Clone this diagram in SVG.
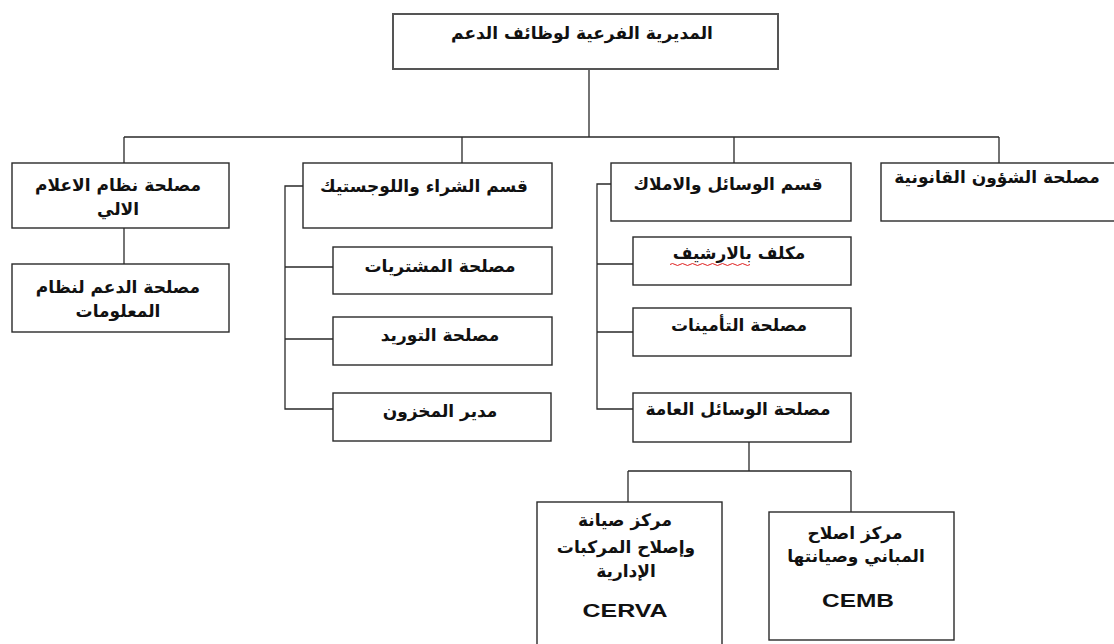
<svg xmlns="http://www.w3.org/2000/svg" width="1114" height="644" viewBox="0 0 1114 644">
<style>
.box{fill:#fff;stroke:#2a2a2a;stroke-width:1.4}
.top{fill:#fff;stroke:#555;stroke-width:2}
.ln{fill:none;stroke:#2a2a2a;stroke-width:1.3}
text{font-family:"DejaVu Sans","Noto Sans",sans-serif;font-weight:bold;font-size:17px;fill:#111;text-anchor:middle}
.lat{font-family:"Liberation Sans",Arial,sans-serif;font-size:18px}
</style>
<rect width="1114" height="644" fill="#fff"/>
<g id="connectors">
<path class="ln" d="M589 69V137M124 137H999M124 137V163M462 137V163M734 137V163M999 137V163"/>
<path class="ln" d="M124 228V264"/>
<path class="ln" d="M303 186H285V409H333M285 267H333M285 339H333"/>
<path class="ln" d="M611 184H597V409H633M597 264H633M597 332H633"/>
<path class="ln" d="M749 442V471M628 471H851M628 471V502M851 471V512"/>
</g>
<g id="n-top"><rect class="top" x="393" y="14" width="385" height="55"/><text x="582" y="39">المديرية الفرعية لوظائف الدعم</text></g>
<g id="n-info"><rect class="box" x="12" y="163" width="217" height="65"/><text x="118" y="191">مصلحة نظام الاعلام</text><text x="118" y="215">الالي</text></g>
<g id="n-infosupport"><rect class="box" x="12" y="264" width="217" height="68"/><text x="118" y="293">مصلحة الدعم لنظام</text><text x="118" y="317">المعلومات</text></g>
<g id="n-purchase"><rect class="box" x="303" y="163" width="249" height="65"/><text x="424" y="192">قسم الشراء واللوجستيك</text></g>
<g id="n-buys"><rect class="box" x="333" y="247" width="219" height="47"/><text x="440" y="272">مصلحة المشتريات</text></g>
<g id="n-supply"><rect class="box" x="333" y="317" width="219" height="48"/><text x="440" y="341">مصلحة التوريد</text></g>
<g id="n-store"><rect class="box" x="333" y="393" width="218" height="48"/><text x="440" y="417">مدير المخزون</text></g>
<g id="n-means"><rect class="box" x="611" y="163" width="240" height="58"/><text x="728" y="190">قسم الوسائل والاملاك</text></g>
<g id="n-archive"><rect class="box" x="633" y="237" width="218" height="48"/><text x="739" y="259">مكلف بالارشيف</text><path d="M670 264.5q2.5-2 5 0t5 0t5 0t5 0t5 0t5 0t5 0t5 0t5 0t5 0t5 0t5 0t5 0t5 0t5 0t5 0" fill="none" stroke="#e02020" stroke-width="1"/></g>
<g id="n-insurance"><rect class="box" x="633" y="308" width="218" height="48"/><text x="739" y="331">مصلحة التأمينات</text></g>
<g id="n-general"><rect class="box" x="633" y="393" width="218" height="49"/><text x="738" y="415">مصلحة الوسائل العامة</text></g>
<g id="n-legal"><rect class="box" x="881" y="163" width="240" height="58"/><text x="997" y="183">مصلحة الشؤون القانونية</text></g>
<g id="n-cerva"><rect class="box" x="537" y="502" width="185" height="150"/><text x="625" y="526">مركز صيانة</text><text x="626" y="553">وإصلاح المركبات</text><text x="626" y="577">الإدارية</text><text class="lat" x="625" y="617" textLength="85" lengthAdjust="spacingAndGlyphs">CERVA</text></g>
<g id="n-cemb"><rect class="box" x="769" y="512" width="185" height="128"/><text x="855" y="539">مركز اصلاح</text><text x="856" y="562">المباني وصيانتها</text><text class="lat" x="858" y="607" textLength="72" lengthAdjust="spacingAndGlyphs">CEMB</text></g>
</svg>
